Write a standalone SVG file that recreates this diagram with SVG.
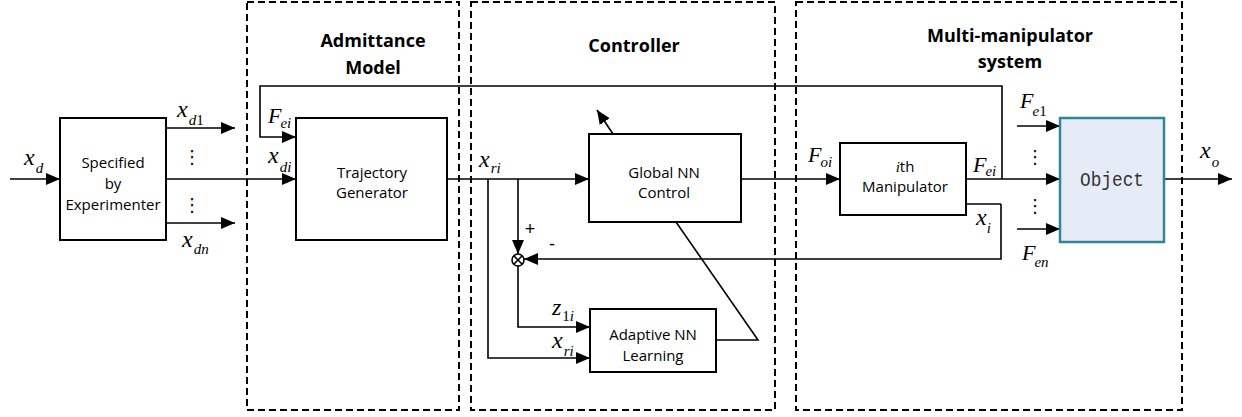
<svg xmlns="http://www.w3.org/2000/svg" width="1242" height="417" viewBox="0 0 1242 417">
<style>
.dash{fill:none;stroke:#000;stroke-width:2;stroke-dasharray:7,4}
.box{fill:#fff;stroke:#000;stroke-width:2}
.ln{fill:none;stroke:#000;stroke-width:1.6}
.arr{fill:none;stroke:#000;stroke-width:1.6;marker-end:url(#ah)}
.lbl{font-family:"Open Sans","Noto Sans",sans-serif;font-size:15px;fill:#000;text-anchor:middle}
.ttl{font-family:"Open Sans","Noto Sans",sans-serif;font-size:18px;font-weight:bold;fill:#000;text-anchor:middle}
.m{font-family:"Liberation Serif",serif;font-style:italic;font-size:24px;fill:#000}
.f{font-size:22px}
.s{font-size:15px}
.u{font-style:normal}
.dots{font-family:"DejaVu Sans",sans-serif;font-size:18px;fill:#000;text-anchor:middle}
.sign{font-family:"Liberation Sans",sans-serif;font-size:18px;fill:#000;text-anchor:middle}
</style>
<defs>
<marker id="ah" markerUnits="userSpaceOnUse" markerWidth="14" markerHeight="12" refX="14" refY="6" orient="auto">
<path d="M0,0 L14,6 L0,12 z" fill="#000"/>
</marker>
</defs>
<rect width="1242" height="417" fill="#fff"/>

<g id="regions">
<rect class="dash" x="247" y="2" width="212" height="408"/>
<rect class="dash" x="471" y="2" width="304" height="408"/>
<rect class="dash" x="796" y="2" width="386" height="408"/>
<text class="ttl" x="373" y="47">Admittance</text>
<text class="ttl" x="373" y="74">Model</text>
<text class="ttl" x="634" y="52">Controller</text>
<text class="ttl" x="1010" y="42">Multi-manipulator</text>
<text class="ttl" x="1010" y="68">system</text>
</g>

<g id="connectors">
<line class="arr" x1="10" y1="179" x2="60" y2="179"/>
<line class="arr" x1="166" y1="128" x2="235" y2="128"/>
<line class="arr" x1="166" y1="223" x2="235" y2="223"/>
<line class="arr" x1="166" y1="179" x2="296" y2="179"/>
<polyline class="arr" points="1002,179 1002,86 260,86 260,137 296,137"/>
<line class="arr" x1="447" y1="179" x2="589" y2="179"/>
<polyline class="arr" points="488,179 488,358 590,358"/>
<polyline class="arr" points="518,179 518,254"/>
<polyline class="arr" points="518,266 518,327 590,327"/>
<polyline class="arr" points="1001,204 1001,259 524,259"/>
<line class="arr" x1="613" y1="134" x2="597" y2="110"/>
<polyline class="ln" points="716,340 758,340 676,222"/>
<line class="arr" x1="741" y1="179" x2="840" y2="179"/>
<line class="arr" x1="966" y1="179" x2="1060" y2="179"/>
<line class="arr" x1="1017" y1="126" x2="1060" y2="126"/>
<line class="arr" x1="1017" y1="229" x2="1060" y2="229"/>
<line class="arr" x1="1164" y1="179" x2="1232" y2="179"/>
<line class="ln" x1="966" y1="204" x2="1001" y2="204"/>
</g>

<g id="specified">
<rect class="box" x="60" y="118" width="106" height="122"/>
<text class="lbl" x="113" y="168">Specified</text>
<text class="lbl" x="113" y="189">by</text>
<text class="lbl" x="113" y="210">Experimenter</text>
</g>

<g id="trajectory">
<rect class="box" x="296" y="118" width="151" height="122"/>
<text class="lbl" x="372" y="178">Trajectory</text>
<text class="lbl" x="372" y="198">Generator</text>
</g>

<g id="global-nn">
<rect class="box" x="589" y="134" width="152" height="88"/>
<text class="lbl" x="664" y="178">Global NN</text>
<text class="lbl" x="664" y="198">Control</text>
</g>

<g id="sum">
<circle cx="518" cy="260" r="6" fill="#fff" stroke="#000" stroke-width="1.6"/>
<line class="ln" x1="513.8" y1="255.8" x2="522.2" y2="264.2"/>
<line class="ln" x1="513.8" y1="264.2" x2="522.2" y2="255.8"/>
</g>

<g id="adaptive-nn">
<rect class="box" x="590" y="309" width="126" height="63"/>
<text class="lbl" x="653" y="340">Adaptive NN</text>
<text class="lbl" x="653" y="361">Learning</text>
</g>

<g id="manipulator">
<rect class="box" x="840" y="143" width="126" height="72"/>
<text class="lbl" x="905" y="172"><tspan font-family="Liberation Serif,serif" font-style="italic">i</tspan>th</text>
<text class="lbl" x="905" y="192">Manipulator</text>
</g>

<g id="object">
<rect x="1060" y="118" width="104" height="124" fill="#E6ECF7" stroke="#31849B" stroke-width="2.5"/>
<text x="1112" y="186" font-family="Liberation Mono,monospace" font-size="20" fill="#333" text-anchor="middle" textLength="64" lengthAdjust="spacingAndGlyphs">Object</text>
</g>

<g id="labels">
<text class="m" x="24" y="165">x<tspan class="s" dx="1" dy="8">d</tspan></text>
<text class="m" x="177" y="117">x<tspan class="s" dx="1" dy="8">d<tspan class="u">1</tspan></tspan></text>
<text class="m" x="182" y="247">x<tspan class="s" dx="1" dy="7">dn</tspan></text>
<text class="dots" x="192" y="163">⋮</text>
<text class="dots" x="192" y="211">⋮</text>
<text class="m f" x="268" y="123">F<tspan class="s" dx="-1" dy="5">ei</tspan></text>
<text class="m" x="268" y="163">x<tspan class="s" dx="1" dy="9">di</tspan></text>
<text class="m" x="479" y="167">x<tspan class="s" dx="1" dy="6">ri</tspan></text>
<text class="sign" x="530" y="235">+</text>
<text class="sign" x="552" y="250">-</text>
<text class="m" x="552" y="315">z<tspan class="s" dx="1" dy="6"><tspan class="u">1</tspan>i</tspan></text>
<text class="m" x="552" y="348">x<tspan class="s" dx="1" dy="8">ri</tspan></text>
<text class="m f" x="808" y="162">F<tspan class="s" dx="-1" dy="5">oi</tspan></text>
<text class="m f" x="973" y="172">F<tspan class="s" dx="-1" dy="4">ei</tspan></text>
<text class="m" x="976" y="225">x<tspan class="s" dx="0" dy="8">i</tspan></text>
<text class="m f" x="1020" y="108">F<tspan class="s" dx="-1" dy="8">e<tspan class="u">1</tspan></tspan></text>
<text class="dots" x="1035" y="163">⋮</text>
<text class="dots" x="1035" y="212">⋮</text>
<text class="m f" x="1022" y="260">F<tspan class="s" dx="-1" dy="7">en</tspan></text>
<text class="m" x="1200" y="158">x<tspan class="s" dx="1" dy="9">o</tspan></text>
</g>
</svg>
